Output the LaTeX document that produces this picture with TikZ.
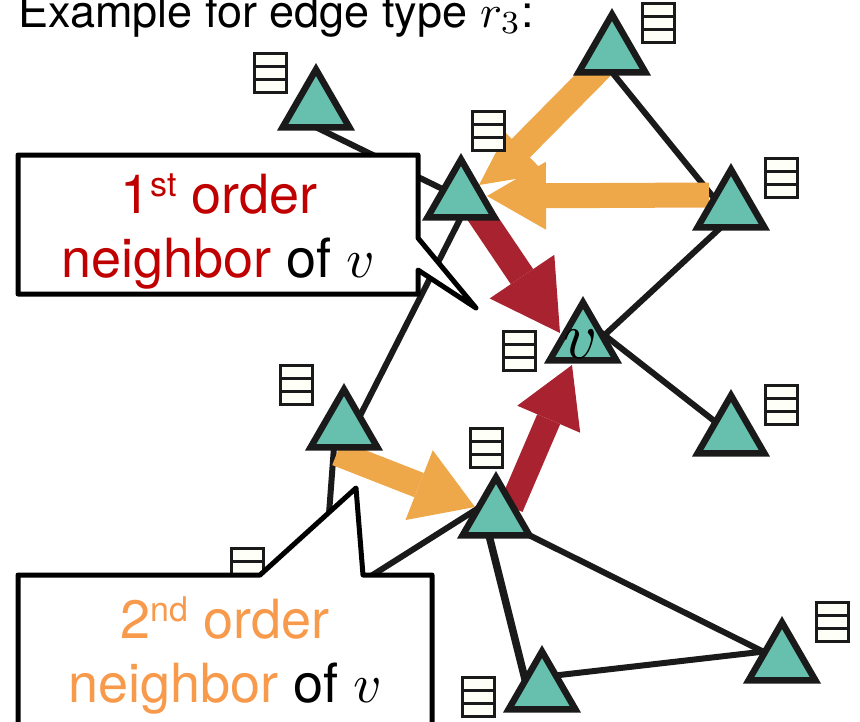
\documentclass[tikz,border=0pt]{standalone}
\usepackage{fontspec}
\usetikzlibrary{shapes.geometric,arrows.meta,calc}
\newfontfamily\heros{TeX Gyre Heros}
\definecolor{teal1}{HTML}{67BFAE}
\definecolor{ink}{HTML}{1A1A1A}
\definecolor{orangeA}{HTML}{EEA849}
\definecolor{redA}{HTML}{A8232F}
\definecolor{redT}{HTML}{C00000}
\definecolor{orangeT}{HTML}{F89A4C}
\definecolor{paper}{HTML}{FEFFF6}
\newcommand\scaledmath[2]{\scalebox{#1}{\fontsize{10}{12}\selectfont$#2$}}
\newcommand\supr[1]{\raisebox{17pt}{\fontsize{34}{34}\selectfont #1}}
\pgfdeclarelayer{bg}
\pgfsetlayers{bg,main}
\tikzset{
  x=1pt,y=-1pt,
  tri/.style={regular polygon,regular polygon sides=3,minimum size=77pt,inner sep=0pt,outer sep=0pt,
    draw=ink,fill=teal1,line width=6.5pt,miter limit=10},
  feat/.style={rectangle,draw=ink,fill=paper,line width=3pt,minimum width=32pt,minimum height=39pt,inner sep=0pt,outer sep=0pt},
  edge/.style={draw=ink,line width=6pt},
  fat/.style n args={4}{draw=#1,line width=#2,-{Triangle[length=#3,width=#4,line width=0pt,fill=#1]}},
  shaft/.style={draw=orangeA,line width=26pt},
  callout/.style={draw=black,fill=white,line width=5pt,line join=round},
  big/.style={font=\heros\fontsize{54}{60}\selectfont,anchor=base,inner sep=0pt},
}
\begin{document}
\begin{tikzpicture}
\useasboundingbox (0,0) rectangle (860,721);
\clip (0,0) rectangle (860,721);
% feature vectors
\foreach \n/\x/\y in {f1/270/73,f2/658.5/23,f3/781.5/178,f4/488/131,f5/519.5/351,f6/781.5/404.5,f7/296.5/384.5,f8/486.5/448,f9/832.5/622,f10/478.5/696.5,f11/247/568}{
  \node[feat] (\n) at (\x,\y) {};
  \draw[draw=ink,line width=3pt] ($(\n.west)+(0,-6.5)$) -- ($(\n.east)+(0,-6.5)$);
  \draw[draw=ink,line width=3pt] ($(\n.west)+(0,6.5)$) -- ($(\n.east)+(0,6.5)$);
}
% nodes
\node[tri] (T1) at (316,108) {};
\node[tri] (T2) at (612,53) {};
\node[tri] (T3) at (731,208) {};
\node[tri] (T4) at (461,198) {};
\node[tri] (T5) at (583,341) {};
\node[tri] (T6) at (731,434) {};
\node[tri] (T7) at (344,428) {};
\node[tri] (T8) at (496,516) {};
\node[tri] (T9) at (782,661) {};
\node[tri] (T10) at (542,690) {};
\coordinate (hid) at (322,607);
\node[anchor=base,inner sep=0pt] (vlabel) at (581,358) {\scaledmath{6.6}{v}};
% named arrow ends
\coordinate (o1s) at (603,65);
\coordinate (o1m) at (520.5,148.5);
\coordinate (o1t) at (479,185);
\coordinate (o1a) at (506,133);
\coordinate (o1b) at (546,174);
\coordinate (o2s) at (709,195);
\coordinate (o2t) at (487,196);
\coordinate (o3s) at (337,453);
\coordinate (o3t) at (475,507);
\coordinate (r1s) at (475,207);
\coordinate (r1t) at (560,333);
\coordinate (r2s) at (511,507);
\coordinate (r2t) at (572,365);
\begin{pgfonlayer}{bg}
  \draw[edge] (T1.side 2) -- (T4.center);
  \draw[edge] (T4.side 2) -- (T7.side 2);
  \draw[edge] ($(T7.side 2)+(-10,0)$) -- (hid);
  \draw[edge] ($(T8.center)+(0,-19)$) -- (hid);
  \draw[edge] (T2.side 2) -- (T3.side 1);
  \draw[edge] ($(T3.center)+(0,10)$) -- ($(T5.center)+(0,14)$);
  \draw[edge] (T5.side 3) -- (T6.center);
  \draw[edge] (T8.corner 3) -- (T9.center);
  \draw[edge,line width=7.5pt] ($(T8.side 2)+(-7,0)$) -- (T10.side 1);
  \draw[edge] ($(T10.center)+(0,-13)$) -- (T9.side 1);
  \draw[fat={redA}{27pt}{68pt}{78pt}] (r1s) -- (r1t);
  \draw[fat={redA}{25pt}{59pt}{68.5pt}] (r2s) -- (r2t);
  \draw[shaft] (o1s) -- (o1m);
  \fill[orangeA] (o1t) -- (o1a) -- (o1b) -- cycle;
  \draw[fat={orangeA}{25pt}{59pt}{68pt}] (o2s) -- (o2t);
  \draw[fat={orangeA}{26pt}{60pt}{75pt}] (o3s) -- (o3t);
\end{pgfonlayer}
% title
\node[anchor=base west,inner sep=0pt,font=\heros\fontsize{45}{50}\selectfont] (title) at (18,27) {Example for edge type \scaledmath{4.6}{r_3}:};
% callouts
\coordinate (c1a) at (18,155);
\coordinate (c1b) at (418,155);
\coordinate (c1c) at (418,238);
\coordinate (c1d) at (476,308);
\coordinate (c1e) at (418,270);
\coordinate (c1f) at (418,294);
\coordinate (c1g) at (18,294);
\draw[callout] (c1a) -- (c1b) -- (c1c) -- (c1d) -- (c1e) -- (c1f) -- (c1g) -- cycle;
\coordinate (c2a) at (18,575);
\coordinate (c2b) at (260,575);
\coordinate (c2c) at (356,488);
\coordinate (c2d) at (363,575);
\coordinate (c2e) at (432,575);
\coordinate (c2f) at (432,740);
\coordinate (c2g) at (18,740);
\draw[callout] (c2a) -- (c2b) -- (c2c) -- (c2d) -- (c2e) -- (c2f) -- (c2g) -- cycle;
\node[big,text=redT] (l1) at (219,213) {1\supr{st} order};
\node[big] (l2) at (218,277) {\textcolor{redT}{neighbor} of \scaledmath{5.5}{v}};
\node[big,text=orangeT] (l3) at (225,638) {2\supr{nd} order};
\node[big] (l4) at (225,702) {\textcolor{orangeT}{neighbor} of \scaledmath{5.5}{v}};
\end{tikzpicture}
\end{document}
